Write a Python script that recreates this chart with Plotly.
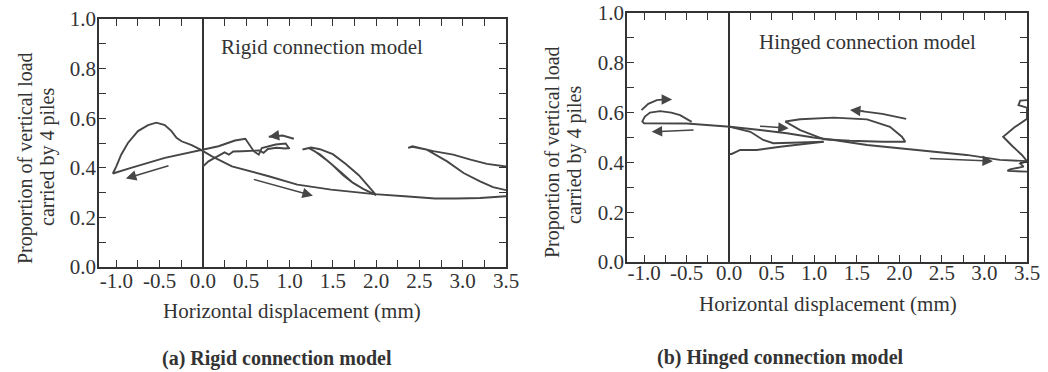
import plotly.graph_objects as go

# ---------------- data ----------------
x_ticks = [-1.0, -0.5, 0.0, 0.5, 1.0, 1.5, 2.0, 2.5, 3.0, 3.5]
x_ticktext = ["-1.0", "-0.5", "0.0", "0.5", "1.0", "1.5", "2.0", "2.5", "3.0", "3.5"]
y_ticks = [0.0, 0.2, 0.4, 0.6, 0.8, 1.0]
y_ticktext = ["0.0", "0.2", "0.4", "0.6", "0.8", "1.0"]

# (a) rigid connection model
rigid_main_x = [1.0, 0.956, 0.84, 0.68, 0.645, 0.587, 0.49, 0.37, 0.18, -0.05, -0.44, -0.83, -1.04,
                -1.0, -0.944, -0.866, -0.75, -0.634, -0.537, -0.44, -0.363, -0.305, -0.247, -0.13, -0.033,
                0.10, 0.335, 0.76, 1.09, 1.48, 1.98, 2.33, 2.68, 2.93, 3.2, 3.5]
rigid_main_y = [0.476, 0.498, 0.494, 0.48, 0.453, 0.467, 0.517, 0.51, 0.487, 0.47, 0.44, 0.40, 0.377,
                0.406, 0.453, 0.50, 0.548, 0.572, 0.582, 0.572, 0.548, 0.521, 0.507, 0.491, 0.474,
                0.447, 0.406, 0.366, 0.332, 0.312, 0.294, 0.285, 0.276, 0.276, 0.278, 0.285]
rigid_mid_x = [0.0, 0.0, 0.064, 0.14, 0.2, 0.25, 0.3, 0.35, 0.45, 0.55, 0.65, 0.7, 0.75, 0.85, 0.95, 1.0]
rigid_mid_y = [0.475, 0.405, 0.426, 0.44, 0.452, 0.462, 0.453, 0.466, 0.467, 0.47, 0.47, 0.46, 0.476, 0.481, 0.478, 0.48]
rigid_loop1_x = [1.15, 1.25, 1.35, 1.5, 1.65, 1.8, 1.9, 1.97, 2.0, 1.85, 1.73, 1.6, 1.45, 1.3, 1.22,
                 1.35, 1.5, 1.62, 1.73]
rigid_loop1_y = [0.474, 0.482, 0.475, 0.455, 0.415, 0.37, 0.33, 0.30, 0.29, 0.315, 0.34, 0.38, 0.425, 0.465, 0.48,
                 0.455, 0.41, 0.37, 0.34]
rigid_loop2_x = [3.5, 3.28, 3.09, 2.89, 2.66, 2.5, 2.42, 2.37, 2.42, 2.58, 2.7, 2.82, 3.01, 3.2, 3.35, 3.5]
rigid_loop2_y = [0.405, 0.416, 0.433, 0.453, 0.467, 0.48, 0.487, 0.48, 0.485, 0.474, 0.45, 0.426, 0.379, 0.345, 0.322, 0.31]
rigid_arc_x = [1.05, 0.92, 0.76]
rigid_arc_y = [0.517, 0.53, 0.525]
# arrows: (tail x, tail y, head x, head y)
rigid_arrows = [(-0.38, 0.41, -0.89, 0.357), (0.57, 0.355, 1.27, 0.287), (0.84, 0.529, 0.76, 0.525)]

# (b) hinged connection model
hinged_main_x = [-0.44, -0.5, -0.576, -0.68, -0.81, -0.93, -0.99, -1.02, -1.0, -0.5, -0.2, 0.01,
                 0.364, 0.68, 0.99, 1.23, 1.62, 2.01, 2.40, 2.79, 3.18, 3.5]
hinged_main_y = [0.563, 0.575, 0.59, 0.6, 0.606, 0.6, 0.584, 0.565, 0.557, 0.556, 0.55, 0.543,
                 0.53, 0.517, 0.50, 0.49, 0.47, 0.457, 0.443, 0.43, 0.41, 0.405]
hinged_branch_x = [0.01, 0.25, 0.40, 0.52, 0.83, 1.11]
hinged_branch_y = [0.543, 0.523, 0.49, 0.477, 0.48, 0.483]
hinged_low_x = [0.0, 0.03, 0.13, 0.325, 0.6, 0.91, 1.11]
hinged_low_y = [0.434, 0.434, 0.45, 0.45, 0.463, 0.474, 0.483]
hinged_loop_x = [1.11, 0.835, 0.66, 0.835, 1.23, 1.62, 1.89, 2.03, 2.07, 1.81, 1.42, 1.11]
hinged_loop_y = [0.493, 0.53, 0.564, 0.573, 0.58, 0.573, 0.543, 0.503, 0.483, 0.483, 0.487, 0.493]
hinged_zig_x = [3.5, 3.44, 3.33, 3.22, 3.35, 3.5, 3.5, 3.4, 3.42, 3.5]
hinged_zig_y = [0.405, 0.43, 0.465, 0.503, 0.54, 0.575, 0.62, 0.63, 0.648, 0.65]
hinged_zig2_x = [3.5, 3.42, 3.46, 3.3, 3.27, 3.5]
hinged_zig2_y = [0.405, 0.395, 0.383, 0.372, 0.366, 0.363]
hinged_arc1_x = [-1.03, -0.95, -0.85, -0.75]
hinged_arc1_y = [0.61, 0.635, 0.65, 0.653]
hinged_arc2_x = [2.08, 1.8, 1.55]
hinged_arc2_y = [0.575, 0.595, 0.606]
hinged_arrows = [(-0.40, 0.53, -0.91, 0.523), (-0.8, 0.653, -0.67, 0.653), (0.345, 0.546, 0.70, 0.537),
                 (1.6, 0.605, 1.42, 0.61), (2.34, 0.416, 3.1, 0.405)]

# ---------------- figure ----------------
LINE = "#464646"
AX = "#333333"
FONT = "Liberation Serif"

fig = go.Figure()

def add_path(xs, ys, xa, ya):
    fig.add_trace(go.Scatter(x=xs, y=ys, mode="lines", xaxis=xa, yaxis=ya,
                             line=dict(color=LINE, width=1.9), hoverinfo="skip", showlegend=False))

for xs, ys in [(rigid_main_x, rigid_main_y), (rigid_mid_x, rigid_mid_y), (rigid_loop1_x, rigid_loop1_y),
               (rigid_loop2_x, rigid_loop2_y), (rigid_arc_x, rigid_arc_y)]:
    add_path(xs, ys, "x", "y")
for xs, ys in [(hinged_main_x, hinged_main_y), (hinged_branch_x, hinged_branch_y), (hinged_low_x, hinged_low_y),
               (hinged_loop_x, hinged_loop_y), (hinged_zig_x, hinged_zig_y), (hinged_zig2_x, hinged_zig2_y),
               (hinged_arc1_x, hinged_arc1_y), (hinged_arc2_x, hinged_arc2_y)]:
    add_path(xs, ys, "x2", "y2")

annotations = []
for arrows, xr, yr in [(rigid_arrows, "x", "y"), (hinged_arrows, "x2", "y2")]:
    for tx, ty, hx, hy in arrows:
        annotations.append(dict(x=hx, y=hy, ax=tx, ay=ty, xref=xr, yref=yr, axref=xr, ayref=yr,
                                text="", showarrow=True, arrowhead=2, arrowsize=1.4, arrowwidth=1.5,
                                arrowcolor=LINE))

def axis_common():
    return dict(showline=True, linecolor=AX, linewidth=1.5, mirror="ticks", ticks="inside", ticklen=7,
                tickwidth=1.3, tickcolor=AX, showgrid=False, automargin=False,
                tickfont=dict(family=FONT, size=21, color=AX))

xa = axis_common()
xa.update(range=[-1.2, 3.5], tickmode="array", tickvals=x_ticks, ticktext=x_ticktext,
          zeroline=True, zerolinecolor=AX, zerolinewidth=1.5,
          minor=dict(tickmode="linear", tick0=-1.0, dtick=0.25, ticks="inside", ticklen=7, tickcolor=AX, tickwidth=1.3))
ya = axis_common()
ya.update(range=[0, 1], tickmode="array", tickvals=y_ticks, ticktext=y_ticktext, zeroline=False,
          ticklabelstandoff=-3,
          minor=dict(tickmode="linear", tick0=0, dtick=0.1, ticks="inside", ticklen=7, tickcolor=AX, tickwidth=1.3))

fig.update_layout(
    width=1048, height=372, margin=dict(l=0, r=0, t=0, b=0, autoexpand=False),
    font=dict(family=FONT, color=AX),
    paper_bgcolor="white", plot_bgcolor="white", showlegend=False,
    xaxis=dict(xa, domain=[99 / 1048, 506 / 1048], anchor="y", ticklabelstandoff=-6),
    yaxis=dict(ya, domain=[1 - 267 / 372, 1 - 19 / 372], anchor="x"),
    xaxis2=dict(xa, domain=[627 / 1048, 1027 / 1048], anchor="y2", ticklabelstandoff=-9),
    yaxis2=dict(ya, domain=[1 - 262 / 372, 1 - 13 / 372], anchor="x2"),
)

def txt(s, x, y, size=20, bold=False, angle=0, xref="paper", yref="paper"):
    if bold:
        s = "<b>" + s + "</b>"
    annotations.append(dict(text=s, x=x, y=y, xref=xref, yref=yref, showarrow=False, textangle=angle,
                            xanchor="center", yanchor="middle", font=dict(family=FONT, size=size, color=AX)))

W, H = 1048.0, 372.0
# inside labels
annotations.append(dict(text="Rigid connection model", x=0.18, y=0.887, xref="x", yref="y", showarrow=False,
                        xanchor="left", yanchor="middle", font=dict(family=FONT, size=21, color=AX)))
annotations.append(dict(text="Hinged connection model", x=0.33, y=0.883, xref="x2", yref="y2", showarrow=False,
                        xanchor="left", yanchor="middle", font=dict(family=FONT, size=21, color=AX)))
# axis titles
txt("Horizontal displacement (mm)", 292 / W, 1 - 311 / H, size=21)
txt("Horizontal displacement (mm)", 828 / W, 1 - 304 / H, size=21)
txt("Proportion of vertical load", 25 / W, 1 - 158 / H, angle=-90)
txt("carried by 4 piles", 47 / W, 1 - 157 / H, angle=-90)
txt("Proportion of vertical load", 552 / W, 1 - 152 / H, angle=-90)
txt("carried by 4 piles", 574 / W, 1 - 155 / H, angle=-90)
# captions
txt("(a) Rigid connection model", 277 / W, 1 - 358 / H, size=20, bold=True)
txt("(b) Hinged connection model", 780 / W, 1 - 357 / H, size=20, bold=True)

fig.update_layout(annotations=annotations)
fig.write_html("out.html")
